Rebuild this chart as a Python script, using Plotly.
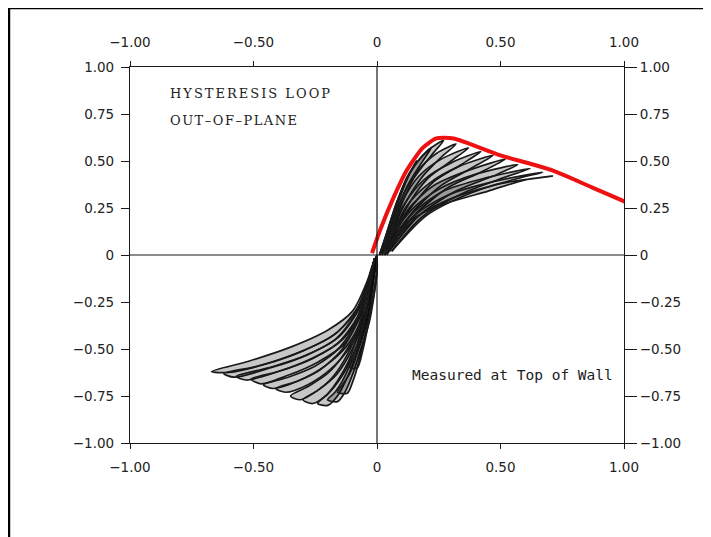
import plotly.graph_objects as go

# --- data (inches vs kips) ---
# positive-side loops (one list per cycle)
POS_X = [
    [0.01, 0.04, 0.08, 0.12, 0.16, 0.13, 0.09, 0.05, 0.02],
    [0.01, 0.04, 0.08, 0.13, 0.18, 0.22, 0.18, 0.12, 0.07, 0.03],
    [0.01, 0.05, 0.09, 0.14, 0.20, 0.27, 0.22, 0.15, 0.09, 0.03],
    [0.01, 0.05, 0.10, 0.16, 0.24, 0.32, 0.26, 0.18, 0.10, 0.04],
    [0.01, 0.05, 0.10, 0.17, 0.26, 0.37, 0.30, 0.20, 0.11, 0.04],
    [0.02, 0.05, 0.11, 0.19, 0.30, 0.42, 0.34, 0.23, 0.12, 0.04],
    [0.02, 0.06, 0.12, 0.21, 0.33, 0.47, 0.38, 0.26, 0.14, 0.05],
    [0.02, 0.06, 0.13, 0.23, 0.37, 0.52, 0.42, 0.29, 0.15, 0.05],
    [0.02, 0.06, 0.14, 0.25, 0.40, 0.57, 0.47, 0.32, 0.17, 0.05],
    [0.03, 0.07, 0.15, 0.27, 0.44, 0.62, 0.51, 0.35, 0.18, 0.06],
    [0.03, 0.07, 0.16, 0.29, 0.47, 0.67, 0.55, 0.38, 0.20, 0.06],
    [0.03, 0.08, 0.17, 0.30, 0.50, 0.71, 0.60, 0.45, 0.27, 0.13, 0.04],
]
POS_Y = [
    [0.00, 0.12, 0.28, 0.41, 0.50, 0.43, 0.30, 0.14, 0.01],
    [0.00, 0.12, 0.28, 0.43, 0.52, 0.57, 0.49, 0.36, 0.20, 0.03],
    [0.00, 0.14, 0.30, 0.45, 0.55, 0.61, 0.53, 0.41, 0.24, 0.03],
    [0.00, 0.13, 0.30, 0.44, 0.54, 0.59, 0.52, 0.41, 0.24, 0.04],
    [0.00, 0.12, 0.28, 0.42, 0.51, 0.57, 0.50, 0.40, 0.23, 0.03],
    [0.00, 0.11, 0.27, 0.40, 0.49, 0.55, 0.48, 0.39, 0.22, 0.03],
    [0.00, 0.11, 0.26, 0.38, 0.47, 0.53, 0.46, 0.37, 0.22, 0.03],
    [0.00, 0.10, 0.25, 0.37, 0.45, 0.51, 0.44, 0.36, 0.21, 0.03],
    [0.00, 0.10, 0.24, 0.35, 0.43, 0.48, 0.42, 0.34, 0.21, 0.02],
    [0.00, 0.10, 0.23, 0.34, 0.41, 0.46, 0.41, 0.33, 0.20, 0.02],
    [0.00, 0.09, 0.22, 0.32, 0.39, 0.44, 0.40, 0.33, 0.21, 0.02],
    [0.00, 0.09, 0.21, 0.30, 0.38, 0.42, 0.40, 0.34, 0.27, 0.18, 0.00],
]

# negative-side loops
NEG_X = [
    [-0.01, -0.04, -0.10, -0.20, -0.35, -0.52, -0.67, -0.60, -0.45, -0.30, -0.16, -0.07, -0.02, 0.00],
    [-0.01, -0.04, -0.09, -0.18, -0.32, -0.48, -0.62, -0.58, -0.43, -0.28, -0.15, -0.07, -0.02, 0.00],
    [-0.01, -0.04, -0.09, -0.17, -0.30, -0.44, -0.57, -0.53, -0.40, -0.26, -0.14, -0.06, -0.02, 0.00],
    [-0.01, -0.04, -0.08, -0.16, -0.28, -0.40, -0.51, -0.47, -0.36, -0.24, -0.13, -0.06, -0.02, 0.00],
    [-0.01, -0.04, -0.08, -0.15, -0.25, -0.36, -0.46, -0.42, -0.32, -0.21, -0.12, -0.05, -0.01, 0.00],
    [-0.01, -0.04, -0.08, -0.14, -0.23, -0.32, -0.41, -0.37, -0.28, -0.19, -0.11, -0.05, -0.01, 0.00],
    [-0.01, -0.04, -0.07, -0.13, -0.20, -0.28, -0.35, -0.31, -0.24, -0.16, -0.10, -0.05, -0.01, 0.00],
    [-0.01, -0.04, -0.07, -0.12, -0.18, -0.24, -0.30, -0.26, -0.20, -0.14, -0.09, -0.04, -0.01, 0.00],
    [-0.01, -0.04, -0.07, -0.11, -0.16, -0.20, -0.24, -0.20, -0.16, -0.12, -0.08, -0.04, -0.01, 0.00],
    [-0.01, -0.03, -0.06, -0.10, -0.14, -0.17, -0.20, -0.16, -0.13, -0.10, -0.07, -0.03, 0.00, 0.00],
    [-0.01, -0.03, -0.05, -0.08, -0.11, -0.14, -0.16, -0.12, -0.10, -0.08, -0.06, -0.03, 0.00, 0.00],
    [-0.01, -0.03, -0.05, -0.07, -0.09, -0.11, -0.08, -0.06, -0.04, -0.02, 0.00, 0.00],
]
NEG_Y = [
    [-0.02, -0.14, -0.30, -0.40, -0.49, -0.565, -0.62, -0.625, -0.58, -0.51, -0.41, -0.26, -0.06, 0.00],
    [-0.02, -0.15, -0.31, -0.43, -0.52, -0.59, -0.63, -0.65, -0.60, -0.53, -0.43, -0.28, -0.07, 0.00],
    [-0.02, -0.16, -0.32, -0.45, -0.54, -0.60, -0.645, -0.665, -0.62, -0.55, -0.45, -0.29, -0.07, 0.00],
    [-0.02, -0.17, -0.33, -0.47, -0.56, -0.62, -0.66, -0.685, -0.64, -0.57, -0.47, -0.30, -0.08, 0.00],
    [-0.02, -0.18, -0.34, -0.49, -0.59, -0.65, -0.69, -0.71, -0.67, -0.59, -0.48, -0.31, -0.08, 0.00],
    [-0.02, -0.18, -0.35, -0.50, -0.61, -0.67, -0.71, -0.73, -0.69, -0.61, -0.49, -0.32, -0.08, 0.00],
    [-0.02, -0.19, -0.36, -0.52, -0.63, -0.70, -0.75, -0.77, -0.72, -0.63, -0.50, -0.33, -0.09, 0.00],
    [-0.02, -0.20, -0.37, -0.53, -0.65, -0.72, -0.77, -0.79, -0.74, -0.64, -0.51, -0.34, -0.09, 0.00],
    [-0.02, -0.20, -0.38, -0.55, -0.67, -0.74, -0.79, -0.80, -0.75, -0.65, -0.52, -0.35, -0.09, 0.00],
    [-0.02, -0.20, -0.38, -0.55, -0.67, -0.73, -0.77, -0.78, -0.73, -0.64, -0.52, -0.35, -0.09, 0.00],
    [-0.02, -0.20, -0.37, -0.52, -0.63, -0.69, -0.73, -0.735, -0.68, -0.60, -0.49, -0.33, -0.09, 0.00],
    [-0.02, -0.18, -0.33, -0.45, -0.54, -0.60, -0.60, -0.52, -0.40, -0.25, -0.08, 0.00],
]

# red backbone (envelope) drawn over the loops
ENV_X = [-0.02, 0.012, 0.065, 0.12, 0.185, 0.24, 0.31, 0.50, 0.71, 0.87, 1.01]
ENV_Y = [0.01, 0.13, 0.30, 0.45, 0.57, 0.62, 0.62, 0.53, 0.45, 0.36, 0.28]

X_TICKS = [-1.0, -0.5, 0.0, 0.5, 1.0]
X_LABELS = ["\u22121.00", "\u22120.50", "0", "0.50", "1.00"]
Y_TICKS = [-1.0, -0.75, -0.5, -0.25, 0.0, 0.25, 0.5, 0.75, 1.0]
Y_LABELS = ["\u22121.00", "\u22120.75", "\u22120.50", "\u22120.25", "0", "0.25", "0.50", "0.75", "1.00"]

INK = "#1a1a1a"
TICK_FONT = dict(family="DejaVu Sans", size=13.5, color="#222")

fig = go.Figure()

# loops: outline plus a fill so the overlapping stem gets dark like the scan
for xs, ys in zip(POS_X + NEG_X, POS_Y + NEG_Y):
    fig.add_trace(go.Scatter(
        x=xs, y=ys, mode="lines", fill="toself", fillcolor="rgba(0,0,0,0.22)",
        line=dict(color=INK, width=1.7, shape="spline", smoothing=0.8),
        showlegend=False, hoverinfo="skip",
    ))

fig.add_trace(go.Scatter(
    x=ENV_X, y=ENV_Y, mode="lines",
    line=dict(color="#ee1111", width=4, shape="spline", smoothing=0.6),
    showlegend=False, hoverinfo="skip",
))

# dummy trace so the mirrored top/right axes get drawn with labels
fig.add_trace(go.Scatter(x=[0], y=[0], xaxis="x2", yaxis="y2", mode="markers",
                         marker=dict(opacity=0), showlegend=False, hoverinfo="skip"))

axis_common = dict(
    range=[-1, 1], showgrid=False, zeroline=False,
    showline=True, linecolor=INK, linewidth=1.2,
    ticks="outside", tickcolor=INK, tickwidth=1.2,
    tickfont=TICK_FONT, fixedrange=True,
)

fig.update_layout(
    width=711, height=537,
    margin=dict(l=122, r=95, t=59, b=102),
    paper_bgcolor="white", plot_bgcolor="white",
    xaxis=dict(**axis_common, tickvals=X_TICKS, ticktext=X_LABELS, ticklen=5,
               ticklabelstandoff=7, side="bottom"),
    yaxis=dict(**axis_common, tickvals=Y_TICKS, ticktext=Y_LABELS, ticklen=8,
               ticklabelstandoff=4, side="left"),
    xaxis2=dict(**axis_common, tickvals=X_TICKS, ticktext=X_LABELS, ticklen=5,
                ticklabelstandoff=9, side="top", overlaying="x", anchor="y2"),
    yaxis2=dict(**axis_common, tickvals=Y_TICKS, ticktext=Y_LABELS, ticklen=12,
                ticklabelstandoff=0, side="right", overlaying="y", anchor="x2"),
    shapes=[
        # zero lines
        dict(type="line", xref="x", yref="y", x0=0, x1=0, y0=-1, y1=1,
             line=dict(color=INK, width=1.2)),
        dict(type="line", xref="x", yref="y", x0=-1, x1=1, y0=0, y1=0,
             line=dict(color=INK, width=1.2)),
        # scan frame (left and top edges)
        dict(type="line", xref="paper", yref="paper", x0=-0.245, x1=-0.245, y0=-0.3, y1=1.157,
             line=dict(color="black", width=2.5)),
        dict(type="line", xref="paper", yref="paper", x0=-0.245, x1=1.25, y0=1.157, y1=1.157,
             line=dict(color="black", width=2.5)),
    ],
    annotations=[
        dict(text='<span style="letter-spacing:2px">HYSTERESIS LOOP</span>',
             x=-0.846, y=0.86, xref="x", yref="y",
             xanchor="left", yanchor="middle", showarrow=False,
             font=dict(family="DejaVu Serif", size=13, color="#222")),
        dict(text='<span style="letter-spacing:1.5px">OUT\u2013OF\u2013PLANE</span>',
             x=-0.846, y=0.715, xref="x", yref="y",
             xanchor="left", yanchor="middle", showarrow=False,
             font=dict(family="DejaVu Serif", size=13, color="#222")),
        dict(text="Measured at Top of Wall", x=0.134, y=-0.636, xref="x", yref="y",
             xanchor="left", yanchor="middle", showarrow=False,
             font=dict(family="DejaVu Sans Mono", size=14.5, color="#222")),
        dict(text="INCHES", x=0.0, y=-1.2, xref="x", yref="y",
             xanchor="center", yanchor="middle", showarrow=False,
             font=dict(family="DejaVu Serif", size=13, color="#222")),
        dict(text="K I P S", x=-1.33, y=-0.13, xref="x", yref="y",
             xanchor="center", yanchor="middle", showarrow=False, textangle=-90,
             font=dict(family="DejaVu Sans", size=11.5, color="#222")),
    ],
)

fig.write_html("out.html")
